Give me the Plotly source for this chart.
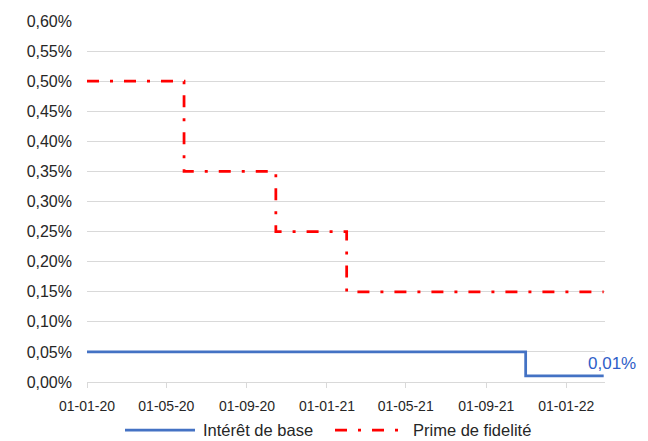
import plotly.graph_objects as go

# Data (values in %)
base_dates = ["2020-01-01", "2021-10-31", "2022-02-27"]
base_values = [0.05, 0.01, 0.01]

prime_dates = ["2020-01-01", "2020-05-28", "2020-10-15", "2021-01-31", "2022-02-27"]
prime_values = [0.50, 0.35, 0.25, 0.15, 0.15]

tick_dates = ["2020-01-01", "2020-05-01", "2020-09-01", "2021-01-01",
              "2021-05-01", "2021-09-01", "2022-01-01"]
tick_labels = ["01-01-20", "01-05-20", "01-09-20", "01-01-21",
               "01-05-21", "01-09-21", "01-01-22"]

series_names = ["Intérêt de base", "Prime de fidelité"]
series_colors = ["#4472C4", "#FF0000"]
red_dash = "12px,11px,3px,11px"

font_family = "Liberation Sans"
text_color = "#262626"

W, H = 640, 433
ML, MR, MT, MB = 79, 43, 13, 59
PW, PH = W - ML - MR, H - MT - MB

fig = go.Figure()
fig.add_trace(go.Scatter(
    x=base_dates, y=base_values, mode="lines", line_shape="hv",
    name=series_names[0], showlegend=False,
    line=dict(color=series_colors[0], width=2.75),
))
fig.add_trace(go.Scatter(
    x=prime_dates, y=prime_values, mode="lines", line_shape="hv",
    name=series_names[1], showlegend=False,
    line=dict(color=series_colors[1], width=2.75, dash=red_dash),
))

fig.add_annotation(
    x=base_dates[-1], y=base_values[-1], text="0,01%",
    showarrow=False, xanchor="center", yanchor="middle", yshift=12, xshift=8,
    font=dict(family=font_family, size=17, color="#2F5EC8"),
)

# Manual legend (figure pixel positions converted to paper coords)
def px(fx):
    return (fx - ML) / PW

def py(fy):
    return (H - MB - fy) / PH

leg_y = py(422)
legend_items = [
    (117, 187, 193, series_names[0], series_colors[0], "solid"),
    (327, 392, 403, series_names[1], series_colors[1], red_dash),
]
for x0, x1, tx, name, color, dash in legend_items:
    fig.add_shape(type="line", xref="paper", yref="paper",
                  x0=px(x0), x1=px(x1), y0=leg_y, y1=leg_y,
                  line=dict(color=color, width=2.75, dash=dash))
    fig.add_annotation(xref="paper", yref="paper", x=px(tx), y=leg_y,
                       text=name, showarrow=False, xanchor="left", yanchor="middle",
                       font=dict(family=font_family, size=16.5, color=text_color))

fig.update_layout(
    width=W, height=H,
    margin=dict(l=ML, r=MR, t=MT, b=MB, autoexpand=False),
    paper_bgcolor="white", plot_bgcolor="white",
    separators=",.",
    font=dict(family=font_family, size=14, color=text_color),
    showlegend=False,
    xaxis=dict(
        type="date", range=["2020-01-01", "2022-03-01"],
        tickvals=tick_dates, ticktext=tick_labels,
        showgrid=False, showline=True, linecolor="#D9D9D9", linewidth=1,
        ticks="outside", ticklen=5, tickcolor="#D9D9D9",
        ticklabelstandoff=6, automargin=False,
        tickfont=dict(size=14, color=text_color),
    ),
    yaxis=dict(
        range=[0, 0.6], dtick=0.05, tickformat=".2f", ticksuffix="%",
        showgrid=True, gridcolor="#D9D9D9", gridwidth=1,
        zeroline=False, showline=False, ticks="",
        ticklabelstandoff=14, automargin=False,
        tickfont=dict(size=16, color=text_color),
    ),
)

fig.write_html("out.html")
